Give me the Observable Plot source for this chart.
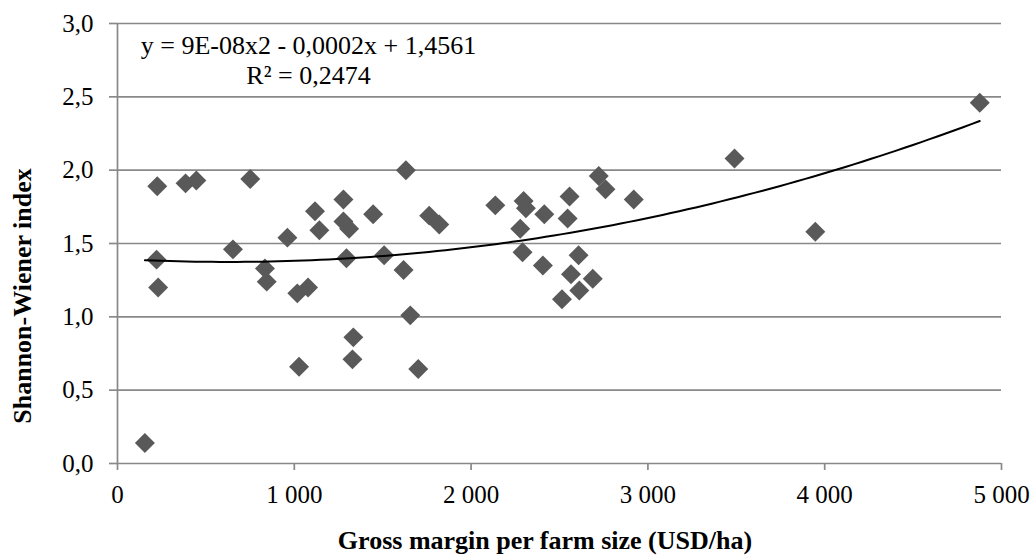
<!DOCTYPE html>
<html>
<head>
<meta charset="utf-8">
<script src="https://cdn.jsdelivr.net/npm/d3@7"></script>
<script src="https://cdn.jsdelivr.net/npm/@observablehq/plot@0.6"></script>
<style>
  body { margin: 0; background: #fff; }
  svg { display: block; }
</style>
</head>
<body>
<div id="chart"></div>
<script>
// Gross margin per farm size (USD/ha) for each farm
const grossMargin = [
  155, 221, 225, 230, 385, 446, 653, 751, 834, 844,
  961, 1017, 1027, 1078, 1117, 1142, 1278, 1278, 1295, 1310,
  1329, 1334, 1446, 1508, 1618, 1631, 1656, 1701, 1763, 1820,
  2137, 2278, 2291, 2297, 2310, 2406, 2414, 2514, 2546, 2557,
  2565, 2608, 2612, 2688, 2722, 2760, 2920, 3490, 3947, 4877
];
// Shannon-Wiener diversity index for the same farms
const shannonIndex = [
  0.14, 1.39, 1.89, 1.20, 1.91, 1.93, 1.46, 1.94, 1.33, 1.24,
  1.54, 1.16, 0.66, 1.20, 1.72, 1.59, 1.80, 1.65, 1.40, 1.60,
  0.71, 0.86, 1.70, 1.42, 1.32, 2.00, 1.01, 0.645, 1.69, 1.63,
  1.76, 1.60, 1.44, 1.79, 1.74, 1.35, 1.70, 1.12, 1.67, 1.82,
  1.29, 1.42, 1.18, 1.26, 1.96, 1.87, 1.80, 2.08, 1.58, 2.46
];
const xTicks = [0, 1000, 2000, 3000, 4000, 5000];
const yTicks = [0, 0.5, 1.0, 1.5, 2.0, 2.5, 3.0];
const equationLines = ["y = 9E-08x2 - 0,0002x + 1,4561", "R\u00b2 = 0,2474"];
const xTitle = "Gross margin per farm size (USD/ha)";
const yTitle = "Shannon-Wiener index";

const points = grossMargin.map((x, i) => ({x, y: shannonIndex[i]}));

// Second-order polynomial trend (least squares), x scaled to thousands
function quadFit(xs, ys) {
  const s = [0, 0, 0, 0, 0], t = [0, 0, 0];
  xs.forEach((x0, i) => {
    const x = x0 / 1000, y = ys[i];
    let p = 1;
    for (let k = 0; k < 5; k++) { s[k] += p; if (k < 3) t[k] += p * y; p *= x; }
  });
  const A = [[s[0], s[1], s[2], t[0]], [s[1], s[2], s[3], t[1]], [s[2], s[3], s[4], t[2]]];
  for (let c = 0; c < 3; c++) {
    for (let r = c + 1; r < 3; r++) {
      const f = A[r][c] / A[c][c];
      for (let k = c; k < 4; k++) A[r][k] -= f * A[c][k];
    }
  }
  const b = [0, 0, 0];
  for (let r = 2; r >= 0; r--) {
    let v = A[r][3];
    for (let k = r + 1; k < 3; k++) v -= A[r][k] * b[k];
    b[r] = v / A[r][r];
  }
  return x => { const u = x / 1000; return b[0] + b[1] * u + b[2] * u * u; };
}
const trendFn = quadFit(grossMargin, shannonIndex);
const [xMin, xMax] = d3.extent(grossMargin);
const trend = d3.range(0, 101).map(i => {
  const x = xMin + (xMax - xMin) * i / 100;
  return {x, y: trendFn(x)};
});

const locale = d3.formatLocale({decimal: ",", thousands: "\u00a0", grouping: [3], currency: ["", ""]});
const fmtX = locale.format(",");
const fmtY = locale.format(".1f");

const gridColor = "#898989";
const font = "'Liberation Serif', 'Times New Roman', serif";

const chart = Plot.plot({
  width: 1034,
  height: 555,
  marginLeft: 117,
  marginRight: 33,
  marginTop: 23,
  marginBottom: 92,
  style: {fontFamily: font, fontSize: "25px", color: "#000", background: "#fff"},
  x: {domain: [0, 5000]},
  y: {domain: [0, 3]},
  marks: [
    Plot.gridY(yTicks, {stroke: gridColor, strokeOpacity: 1, strokeWidth: 1.7}),
    Plot.ruleX([0], {stroke: gridColor, strokeWidth: 1.7}),
    Plot.axisY(yTicks, {
      tickSize: 8, tickPadding: 16, tickFormat: fmtY,
      stroke: gridColor, strokeWidth: 1.7, fill: "#000", label: null
    }),
    Plot.axisX(xTicks, {
      tickSize: 7, tickPadding: 15, tickFormat: fmtX,
      stroke: gridColor, strokeWidth: 1.7, fill: "#000", label: null
    }),
    Plot.dot(points, {x: "x", y: "y", symbol: "diamond2", r: 9, fill: "#595959", stroke: "none"}),
    Plot.line(trend, {x: "x", y: "y", stroke: "#000", strokeWidth: 2}),
    Plot.text([equationLines.join("\n")], {
      frameAnchor: "top-left", textAnchor: "middle", lineAnchor: "top",
      dx: 191, dy: 9, lineHeight: 1.16, fontSize: 26, fill: "#000"
    })
  ]
});

const svg = d3.select(chart);
svg.append("text")
  .attr("x", 545).attr("y", 549)
  .attr("text-anchor", "middle")
  .attr("font-family", font).attr("font-size", 26).attr("font-weight", "bold")
  .attr("fill", "#000")
  .text(xTitle);
svg.append("text")
  .attr("transform", "translate(31,296) rotate(-90)")
  .attr("text-anchor", "middle")
  .attr("font-family", font).attr("font-size", 26).attr("font-weight", "bold")
  .attr("fill", "#000")
  .text(yTitle);

document.getElementById("chart").appendChild(chart);
</script>
</body>
</html>
